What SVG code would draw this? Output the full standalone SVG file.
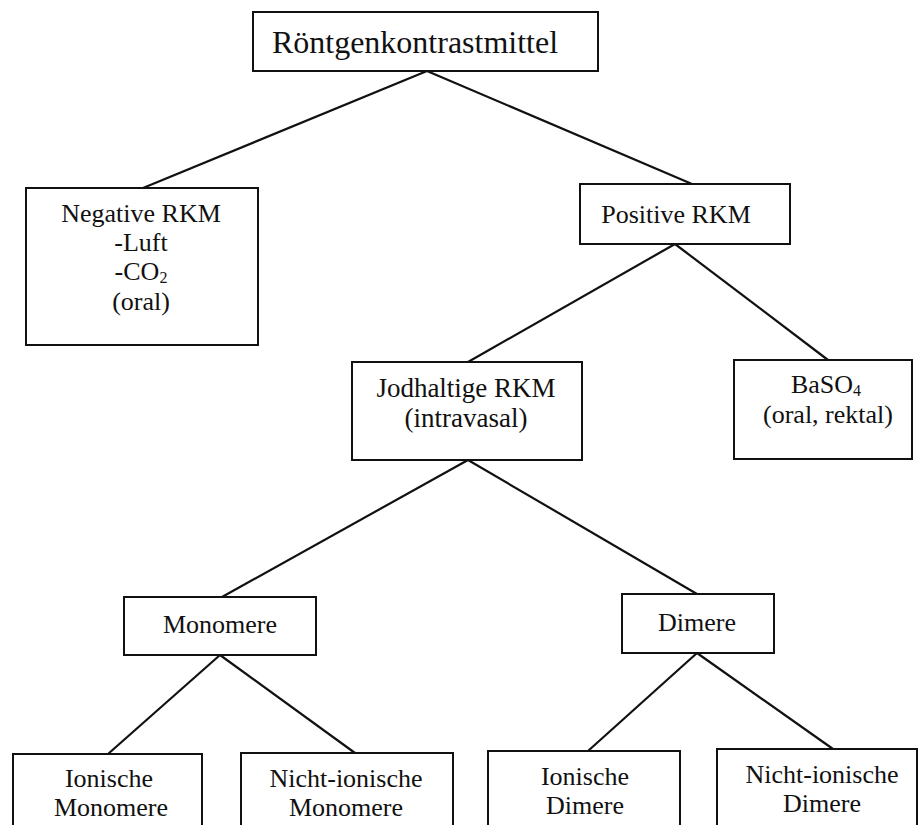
<svg xmlns="http://www.w3.org/2000/svg" width="919" height="825" viewBox="0 0 919 825">
<style>
rect.box{fill:#fff;stroke:#111;stroke-width:2}
#connectors line{stroke:#111;stroke-width:2.2}
text{font-family:"Liberation Serif","Times New Roman",serif;font-size:26px;fill:#111;text-anchor:middle}
.sub{font-size:16px}
</style>
<rect width="919" height="825" fill="#fff"/>
<g id="connectors">
<line x1="427" y1="71" x2="143" y2="188"/>
<line x1="427" y1="71" x2="692" y2="184"/>
<line x1="675" y1="244" x2="468" y2="362"/>
<line x1="675" y1="244" x2="828" y2="360"/>
<line x1="468" y1="460" x2="222" y2="597"/>
<line x1="468" y1="460" x2="697" y2="594"/>
<line x1="220" y1="655" x2="108" y2="754"/>
<line x1="220" y1="655" x2="355" y2="753"/>
<line x1="697" y1="653" x2="588" y2="751"/>
<line x1="697" y1="653" x2="833" y2="749"/>
</g>
<g id="root">
<rect class="box" x="253" y="12" width="345" height="59"/>
<text x="415" y="53" style="font-size:32px">Röntgenkontrastmittel</text>
</g>
<g id="negative">
<rect class="box" x="26" y="188" width="232" height="157"/>
<text x="141" y="222">Negative RKM</text>
<text x="141" y="251">-Luft</text>
<text x="141" y="280">-CO<tspan class="sub" dy="3">2</tspan></text>
<text x="141" y="310">(oral)</text>
</g>
<g id="positive">
<rect class="box" x="580" y="184" width="210" height="60"/>
<text x="676" y="223">Positive RKM</text>
</g>
<g id="jodhaltige">
<rect class="box" x="352" y="362" width="230" height="98"/>
<text x="466" y="397" style="font-size:27px">Jodhaltige RKM</text>
<text x="466" y="427" style="font-size:27px">(intravasal)</text>
</g>
<g id="baso4">
<rect class="box" x="734" y="360" width="178" height="99"/>
<text x="826" y="393">BaSO<tspan class="sub" dy="3">4</tspan></text>
<text x="828" y="423">(oral, rektal)</text>
</g>
<g id="monomere">
<rect class="box" x="124" y="597" width="192" height="58"/>
<text x="220" y="633">Monomere</text>
</g>
<g id="dimere">
<rect class="box" x="622" y="594" width="152" height="59"/>
<text x="697" y="631">Dimere</text>
</g>
<g id="ionische-monomere">
<rect class="box" x="13" y="754" width="189" height="80"/>
<text x="109" y="787">Ionische</text>
<text x="111" y="816">Monomere</text>
</g>
<g id="nichtionische-monomere">
<rect class="box" x="241" y="753" width="212" height="80"/>
<text x="346" y="787">Nicht-ionische</text>
<text x="346" y="816">Monomere</text>
</g>
<g id="ionische-dimere">
<rect class="box" x="488" y="751" width="192" height="80"/>
<text x="585" y="785">Ionische</text>
<text x="585" y="814">Dimere</text>
</g>
<g id="nichtionische-dimere">
<rect class="box" x="717" y="749" width="200" height="80"/>
<text x="822" y="783">Nicht-ionische</text>
<text x="822" y="812">Dimere</text>
</g>
</svg>
